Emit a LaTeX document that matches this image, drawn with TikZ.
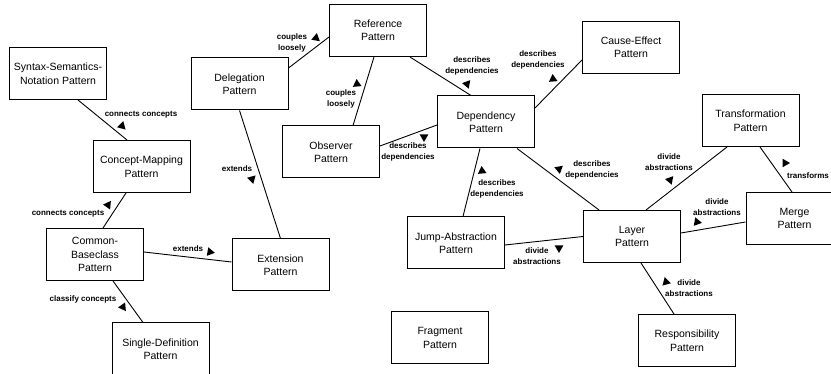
\documentclass[tikz,border=0pt]{standalone}
\usepackage{fontspec}
\setmainfont{Liberation Sans}
\usetikzlibrary{shapes.geometric}
\tikzset{
  pbox/.style={draw, line width=1pt, minimum width=97pt, minimum height=52pt, inner sep=2pt,
    align=center, font=\fontsize{10.5}{13.5}\selectfont},
  lab/.style={align=center, inner sep=0pt, font=\bfseries\fontsize{8}{10.5}\selectfont},
  dirtri/.style={regular polygon, regular polygon sides=3, fill=black, draw=none, inner sep=0pt, minimum size=10pt},
  conn/.style={line width=0.9pt}
}
\begin{document}
\begin{tikzpicture}[x=1pt,y=-1pt]
\useasboundingbox (0,0) rectangle (831,374);
\clip (0,0) rectangle (831,374);
% boxes
\node[pbox] (syn) at (58,73.5) {Syntax-Semantics-\\Notation Pattern};
\node[pbox] (cm) at (141.5,166.5) {Concept-Mapping\\Pattern};
\node[pbox] (cb) at (95,254.5) {Common-\\Baseclass\\Pattern};
\node[pbox] (sd) at (160.5,349) {Single-Definition\\Pattern};
\node[pbox] (del) at (239.5,84) {Delegation\\Pattern};
\node[pbox] (ext) at (280.5,265) {Extension\\Pattern};
\node[pbox] (ref) at (378,30.5) {Reference\\Pattern};
\node[pbox] (obs) at (331,152) {Observer\\Pattern};
\node[pbox] (dep) at (486,122) {Dependency\\Pattern};
\node[pbox] (ce) at (631,47.5) {Cause-Effect\\Pattern};
\node[pbox] (jump) at (456,243) {Jump-Abstraction\\Pattern};
\node[pbox] (layer) at (632,236.5) {Layer\\Pattern};
\node[pbox] (trans) at (750.5,120.5) {Transformation\\Pattern};
\node[pbox] (merge) at (794.5,218.5) {Merge\\Pattern};
\node[pbox] (frag) at (440,338) {Fragment\\Pattern};
\node[pbox] (resp) at (687,340.5) {Responsibility\\Pattern};
% connectors
\draw[conn] ([xshift=20pt]syn.south) -- ([xshift=-14.5pt]cm.north);
\draw[conn] ([xshift=-15.5pt]cm.south) -- ([xshift=8pt]cb.north);
\draw[conn] ([yshift=2.5pt]cb.east) -- ([yshift=3pt]ext.west);
\draw[conn] ([xshift=18pt]cb.south) -- ([xshift=-17.5pt]sd.north);
\draw[conn] (del.south) -- (ext.north);
\draw[conn] ([yshift=16pt]del.east) -- ([yshift=-6.5pt]ref.west);
\draw[conn] ([xshift=-4pt]ref.south) -- ([xshift=22pt]obs.north);
\draw[conn] ([xshift=32pt]ref.south) -- ([xshift=-15pt]dep.north);
\draw[conn] ([yshift=14pt]dep.east) -- ([yshift=-12.5pt]ce.west);
\draw[conn] ([yshift=6pt]obs.east) -- ([yshift=-3pt]dep.west);
\draw[conn] ([xshift=-6pt]dep.south) -- ([xshift=7pt]jump.north);
\draw[conn] ([xshift=31pt]dep.south) -- ([xshift=-33pt]layer.north);
\draw[conn] ([xshift=14pt]layer.north) -- ([xshift=-23.5pt]trans.south);
\draw[conn] ([xshift=9.5pt]trans.south) -- ([xshift=-2.5pt]merge.north);
\draw[conn] ([yshift=3.5pt]layer.east) -- ([yshift=-3.5pt]merge.west);
\draw[conn] ([yshift=-2pt]jump.east) -- (layer.west);
\draw[conn] ([xshift=9pt]layer.south) -- ([xshift=-13pt]resp.north);
% labels
\node[lab] (l1) at (141,115) {connects concepts};
\node[lab] (l2) at (68,214) {connects concepts};
\node[lab] (l3) at (188,249) {extends};
\node[lab] (l4) at (83,299) {classify concepts};
\node[lab] (l5) at (237,169) {extends};
\node[lab] (l6) at (292,43) {couples\\loosely};
\node[lab] (l7) at (341,99) {couples\\loosely};
\node[lab] (l8) at (472,66) {describes\\dependencies};
\node[lab] (l9) at (538,60) {describes\\dependencies};
\node[lab] (l10) at (408,152) {describes\\dependencies};
\node[lab] (l11) at (497,189) {describes\\dependencies};
\node[lab] (l12) at (592,170) {describes\\dependencies};
\node[lab] (l13) at (669,162) {divide\\abstractions};
\node[lab] (l14) at (808,176) {transforms};
\node[lab] (l15) at (717,207) {divide\\abstractions};
\node[lab] (l16) at (537,256) {divide\\abstractions};
\node[lab] (l17) at (689,288) {divide\\abstractions};
% direction triangles
\node[dirtri, rotate=-135] (t1) at (122,126) {};
\node[dirtri, rotate=-35] (t2) at (108,205) {};
\node[dirtri, rotate=-100] (t3) at (210,252) {};
\node[dirtri, rotate=-145] (t4) at (123,307) {};
\node[dirtri, rotate=-165] (t5) at (252,179) {};
\node[dirtri, rotate=110] (t6) at (316,38) {};
\node[dirtri, rotate=5] (t7) at (357,84) {};
\node[dirtri, rotate=-160] (t8) at (467,84) {};
\node[dirtri, rotate=-115] (t9) at (553,79) {};
\node[dirtri, rotate=-60] (t10) at (424,137) {};
\node[dirtri, rotate=5] (t11) at (482,171) {};
\node[dirtri, rotate=70] (t12) at (559,169) {};
\node[dirtri, rotate=-40] (t13) at (670,180) {};
\node[dirtri, rotate=20] (t14) at (697,222) {};
\node[dirtri, rotate=30] (t15) at (785,163) {};
\node[dirtri, rotate=-180] (t16) at (559,248) {};
\node[dirtri, rotate=-105] (t17) at (666,282) {};
\end{tikzpicture}
\end{document}
